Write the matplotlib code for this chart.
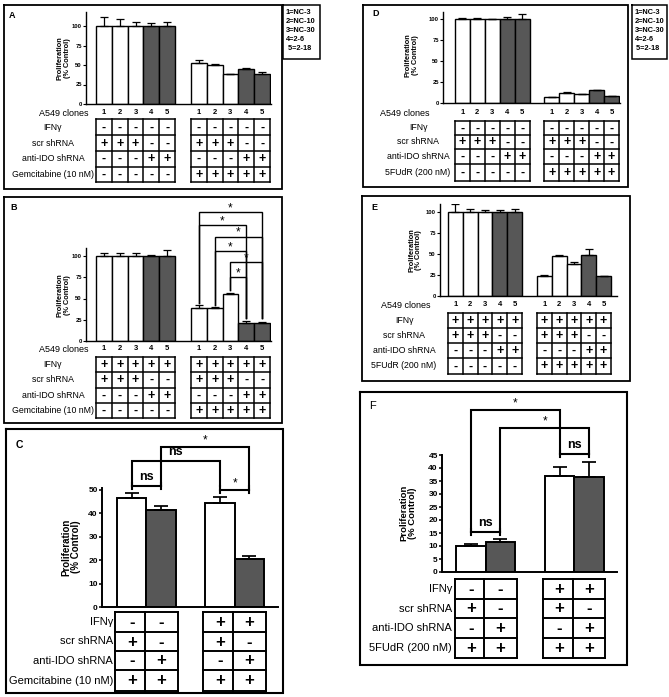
import numpy as np
import matplotlib.pyplot as plt
from matplotlib.transforms import blended_transform_factory

plt.rcParams['font.family'] = ['Liberation Sans', 'DejaVu Sans']

''' Data '''
clone_ids = ['1', '2', '3', '4', '5']
legend_lines = ['1=NC-3', '2=NC-10', '3=NC-30', '4=2-6', ' 5=2-18']
rows_gem = ['IFNγ', 'scr shRNA', 'anti-IDO shRNA', 'Gemcitabine (10 nM)']
rows_fu = ['IFNγ', 'scr shRNA', 'anti-IDO shRNA', '5FUdR (200 nM)']

# 5-clone panels: first five = no drug, last five = drug
a_mean = [100, 100, 100, 100, 100, 52, 50, 39, 45, 38]
a_err = [12, 8.6, 5, 3.4, 5.6, 4, 1, 0, 1, 3.5]
b_mean = [100, 100, 100, 100, 100, 39.4, 38.6, 55, 21, 21]
b_err = [3, 4, 3, 1, 6.7, 2.6, 1.4, 1, 3, 1]
d_mean = [100, 100, 100, 100, 100, 6.7, 12.3, 11.1, 15.4, 8.3]
d_err = [0.6, 0.6, 0, 2.4, 5.6, 0, 0.5, 0, 0.5, 0.5]
e_mean = [100, 100, 100, 100, 100, 24.4, 47.6, 38.2, 49.2, 23.6]
e_err = [9, 3.5, 2.5, 2, 3.5, 0.6, 1.2, 2.4, 6.7, 0]
clone_colors = ['w', 'w', 'w', 'g', 'g'] * 2

signs_no_ifn = ['----------', '+++--+++--', '---++---++', '-----+++++']
signs_ifn = ['++++++++++', '+++--+++--', '---++---++', '-----+++++']

# 2x2 panels
c_mean = [46.5, 41.3, 44.3, 20.7]
c_err = [2.2, 1.9, 2.6, 1.0]
f_mean = [10.0, 11.5, 37.1, 36.7]
f_err = [0.9, 1.3, 3.4, 5.8]
pair_colors = ['w', 'g', 'w', 'g']
signs_pair = ['--++', '+-+-', '-+-+', '++++']

# significance brackets in B (bar index pairs, bracket height)
b_pairs = [(5, 9), (5, 8), (6, 9), (6, 8), (7, 9), (7, 8)]
b_tops = [151.6, 136, 122.8, 106, 93, 75.6]
b_feet = {5: 45, 6: 42, 7: 60, 8: 27, 9: 27}

''' Layout '''
W, H = 669, 697
fig = plt.figure(figsize=(W / 100, H / 100), dpi=100)
canvas = fig.add_axes([0, 0, 1, 1])
canvas.set_xlim(0, W)
canvas.set_ylim(H, 0)
canvas.axis('off')
GREY = '#575757'
COL = {'w': 'white', 'g': GREY}


def px_axes(left, top, right, bottom):
    ax = fig.add_axes([left / W, 1 - bottom / H, (right - left) / W, (bottom - top) / H])
    ax.patch.set_alpha(0)
    ax.set_zorder(2)
    return ax


def box(x0, y0, x1, y1, lw=1.3):
    canvas.plot([x0, x1, x1, x0, x0], [y0, y0, y1, y1, y0], color='k', lw=lw,
                solid_joinstyle='miter')


def bar_panel(spine, right, top, zero, ref, first_px, last_px, pos, means, errs,
              colors, ticks, tick_fs, edge_lw, cap):
    ax = px_axes(spine, top, right, zero)
    unit = (last_px - first_px) / (pos[-1] - pos[0] + 1)
    ax.set_xlim(pos[0] - 0.5 - (first_px - spine) / unit,
                pos[-1] + 0.5 + (right - last_px) / unit)
    per = (zero - ref[1]) / ref[0]
    ax.set_ylim(0, (zero - top) / per)
    ax.bar(pos, means, 1.0, color=[COL[c] for c in colors], edgecolor='k',
           linewidth=edge_lw, zorder=2)
    ax.errorbar(pos, means, yerr=[np.zeros(len(errs)), errs], fmt='none',
                ecolor='k', elinewidth=edge_lw * 0.9, capsize=cap,
                capthick=edge_lw * 0.9, zorder=3)
    for s in ['top', 'right']:
        ax.spines[s].set_visible(False)
    for s in ['left', 'bottom']:
        ax.spines[s].set_linewidth(edge_lw)
    ax.set_xticks([])
    ax.set_yticks(ticks)
    ax.tick_params(axis='y', length=2.5, width=edge_lw * 0.8, pad=0.5,
                   labelsize=tick_fs)
    for t in ax.get_yticklabels():
        t.set_fontweight('bold')
    return ax


def table(ax, pos, groups, signs, edges, cw, fs, lw):
    tr = blended_transform_factory(ax.transData, canvas.transData)
    for g in groups:
        xs = [pos[i] for i in g]
        x0, x1 = xs[0] - cw / 2, xs[-1] + cw / 2
        for y in edges:
            ax.plot([x0, x1], [y, y], color='k', lw=lw, transform=tr,
                    clip_on=False, solid_capstyle='projecting')
        for x in [p - cw / 2 for p in xs] + [x1]:
            ax.plot([x, x], [edges[0], edges[-1]], color='k', lw=lw,
                    transform=tr, clip_on=False, solid_capstyle='projecting')
    for r, row in enumerate(signs):
        yc = (edges[r] + edges[r + 1]) / 2
        for i, p in enumerate(pos):
            ax.text(p, yc + 0.5, row[i], transform=tr, ha='center', va='center',
                    fontsize=fs, fontweight='bold', clip_on=False)


def row_labels(labels, edges, x, ha, fs):
    for r, lab in enumerate(labels):
        canvas.text(x, (edges[r] + edges[r + 1]) / 2, lab, ha=ha, va='center',
                    fontsize=fs)


def clone_row(ax, pos, y, x_lab, ha, fs):
    tr = blended_transform_factory(ax.transData, canvas.transData)
    for i, p in enumerate(pos):
        ax.text(p, y, clone_ids[i % 5], transform=tr, ha='center', va='center',
                fontsize=5.5, fontweight='bold')
    canvas.text(x_lab, y, 'A549 clones', ha=ha, va='center', fontsize=fs)


def ylabel(x, y, fs):
    canvas.text(x, y, 'Proliferation\n(% Control)', rotation=90, ha='center',
                va='center', fontsize=fs, fontweight='bold', linespacing=1.0)


def legend_box(x0, y0, x1, y1):
    box(x0, y0, x1, y1, lw=1.1)
    for k, s in enumerate(legend_lines):
        canvas.text(x0 + 2.5, y0 + 7 + k * 9.2, s, ha='left', va='center',
                    fontsize=5.3, fontweight='bold')


def star(ax, x, y, fs=8.5, dy=0.5):
    ax.annotate('*', (x, y), xytext=(0, dy), textcoords='offset points',
                ha='center', va='baseline', fontsize=fs, annotation_clip=False)


def ns(ax, x, y, fs=9):
    ax.annotate('ns', (x, y), xytext=(0, 2), textcoords='offset points',
                ha='center', va='bottom', fontsize=fs, fontweight='bold',
                annotation_clip=False)


def bracket(ax, x0, x1, top, f0, f1, lw):
    ax.plot([x0, x0, x1, x1], [f0, top, top, f1], color='k', lw=lw,
            clip_on=False, solid_joinstyle='miter')


def capped(ax, x0, x1, y, cap, lw):
    ax.plot([x0, x1], [y, y], color='k', lw=lw, clip_on=False)
    for x in (x0, x1):
        ax.plot([x, x], [y - cap, y + cap], color='k', lw=lw, clip_on=False)


pos10 = [0, 1, 2, 3, 4, 6, 7, 8, 9, 10]
groups10 = [range(0, 5), range(5, 10)]
pos4 = [0, 1, 3, 4]
groups4 = [range(0, 2), range(2, 4)]
ticks5 = [0, 25, 50, 75, 100]

''' Panel A '''
box(4, 5, 282, 189)
legend_box(283, 5, 320, 59)
canvas.text(9, 16, 'A', fontsize=6.5, fontweight='bold', va='center')
ax_a = bar_panel(86, 271, 12, 104, (100, 26), 96, 270, pos10, a_mean, a_err,
                 clone_colors, ticks5, 4.2, 1.0, 3)
ylabel(64, 58, 5.3)
rows_a = [119, 135, 151, 166.5, 182]
clone_row(ax_a, pos10, 113, 64, 'center', 6.5)
table(ax_a, pos10, groups10, signs_no_ifn, rows_a, 1.0, 9, 1.1)
row_labels(rows_gem, rows_a, 53, 'center', 6.3)

''' Panel B '''
box(4, 197, 282, 423)
canvas.text(10, 207, 'B', fontsize=6.5, fontweight='bold', va='center')
ax_b = bar_panel(86, 271, 248, 341, (100, 256), 96, 270, pos10, b_mean, b_err,
                 clone_colors, ticks5, 4.2, 1.0, 3)
ylabel(64, 295, 5.3)
for (i, j), top in zip(b_pairs, b_tops):
    bracket(ax_b, pos10[i], pos10[j], top, b_feet[i], b_feet[j], 1.0)
    star(ax_b, (pos10[i] + pos10[j]) / 2, top, 8.5, 0.5)
rows_b = [357, 372, 387.5, 403, 418]
clone_row(ax_b, pos10, 349, 64, 'center', 6.5)
table(ax_b, pos10, groups10, signs_ifn, rows_b, 1.0, 9, 1.1)
row_labels(rows_gem, rows_b, 53, 'center', 6.3)

''' Panel C '''
box(6, 429, 283, 693, lw=1.5)
canvas.text(16, 445, 'C', fontsize=7.5, fontweight='bold', va='center')
ax_c = bar_panel(102, 278, 488, 607, (50, 490), 117, 264, pos4, c_mean, c_err,
                 pair_colors, [0, 10, 20, 30, 40, 50], 6, 1.4, 5)
ylabel(71, 547, 7)
capped(ax_c, 0, 1, 51.7, 1.3, 1.5)
ns(ax_c, 0.5, 51.7)
capped(ax_c, 3, 4, 50.2, 1.3, 1.5)
star(ax_c, 3.5, 50.2, 8.5, 2)
bracket(ax_c, 0, 3, 62.4, 51.7, 51.5, 1.5)
ns(ax_c, 1.5, 62.4)
bracket(ax_c, 1, 4, 68.4, 51.7, 50.2, 1.5)
star(ax_c, 2.5, 68.4, 8.5, 2.5)
rows_c = [612, 632, 651, 670, 691]
table(ax_c, pos4, groups4, signs_pair, rows_c, 1.12, 12, 1.4)
row_labels(rows_gem, rows_c, 113, 'right', 8)

''' Panel D '''
box(363, 5, 628, 187)
legend_box(632, 5, 667, 59)
canvas.text(372, 14, 'D', fontsize=6.5, fontweight='bold', va='center')
ax_d = bar_panel(443, 620, 12, 103, (100, 19), 455, 619, pos10, d_mean, d_err,
                 clone_colors, ticks5, 4.2, 1.0, 3)
ylabel(412, 55, 5.3)
rows_d = [121, 135, 149, 164, 181]
clone_row(ax_d, pos10, 113, 405, 'center', 6.5)
table(ax_d, pos10, groups10, signs_no_ifn, rows_d, 1.0, 9, 1.1)
row_labels(rows_fu, rows_d, 418, 'center', 6.3)

''' Panel E '''
box(362, 196, 630, 381)
canvas.text(371, 207, 'E', fontsize=6.5, fontweight='bold', va='center')
ax_e = bar_panel(440, 617, 204, 296, (100, 212), 448, 611, pos10, e_mean, e_err,
                 clone_colors, ticks5, 4.2, 1.0, 3)
ylabel(415, 250, 5.3)
rows_e = [313, 328, 343, 358, 374]
clone_row(ax_e, pos10, 305, 406, 'center', 6.5)
table(ax_e, pos10, groups10, signs_ifn, rows_e, 1.0, 9, 1.1)
row_labels(rows_fu, rows_e, 404, 'center', 6.3)

''' Panel F '''
box(360, 392, 627, 665, lw=1.5)
canvas.text(369, 406, 'F', fontsize=8, va='center')
ax_f = bar_panel(442, 617, 455, 572, (45, 455), 456, 604, pos4, f_mean, f_err,
                 pair_colors, list(range(0, 50, 5)), 6, 1.4, 5)
ylabel(408, 513, 6.8)
capped(ax_f, 0, 1, 15.4, 1.2, 1.5)
ns(ax_f, 0.5, 15.4)
capped(ax_f, 3, 4, 45.4, 1.2, 1.5)
ns(ax_f, 3.5, 45.4)
bracket(ax_f, 0, 3, 62.3, 15.4, 45.4, 1.5)
star(ax_f, 1.5, 62.3, 8.5, 2.5)
bracket(ax_f, 1, 4, 55.4, 15.4, 45.4, 1.5)
star(ax_f, 2.5, 55.4, 8.5, 2.5)
rows_f = [579, 599, 618, 638, 658]
table(ax_f, pos4, groups4, signs_pair, rows_f, 1.1, 12, 1.4)
row_labels(rows_fu, rows_f, 452, 'right', 8)

fig.savefig('out.png', dpi=100)
